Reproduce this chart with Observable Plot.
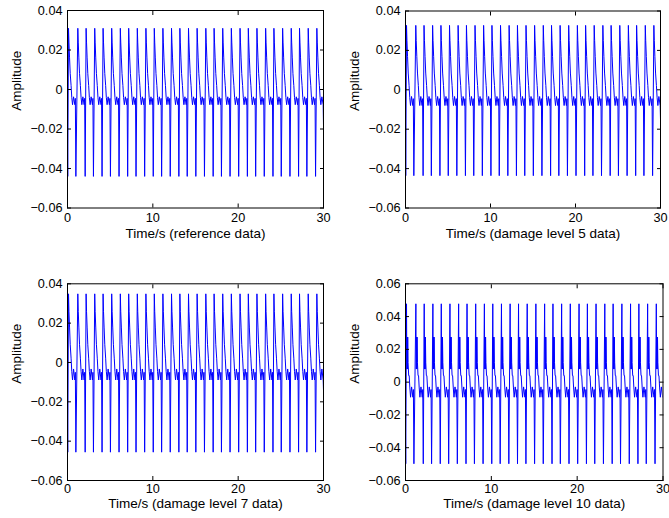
<!DOCTYPE html>
<html>
<head>
<meta charset="utf-8">
<script src="https://cdn.jsdelivr.net/npm/d3@7"></script>
<script src="https://cdn.jsdelivr.net/npm/@observablehq/plot@0.6"></script>
<style>
  html, body { margin: 0; padding: 0; background: #fff; }
  #fig { position: relative; width: 669px; height: 518px; overflow: hidden; background: #fff;
         font-family: "Liberation Sans", Arial, Helvetica, sans-serif; }
  .panel { position: absolute; }
</style>
</head>
<body>
<div id="fig"></div>
<script>
// Axis ticks
const xTicks = [0, 10, 20, 30];
const yTicksSmall = [-0.06, -0.04, -0.02, 0, 0.02, 0.04];
const yTicksLarge = [-0.06, -0.04, -0.02, 0, 0.02, 0.04, 0.06];

// Axis titles
const xTitles = [
  "Time/s (reference data)",
  "Time/s (damage level 5 data)",
  "Time/s (damage level 7 data)",
  "Time/s (damage level 10 data)"
];
const yTitle = "Amplitude";

// Times (s) of the positive impulse peaks, shared by the four records
const beatTimes = [0.12, 1.21, 2.18, 3.19, 4.17, 5.18, 6.19, 7.17, 8.18, 9.19,
  10.17, 11.18, 12.19, 13.17, 14.18, 15.19, 16.21, 17.18, 18.19, 19.20,
  20.22, 21.19, 22.20, 23.22, 24.19, 25.21, 26.22, 27.19, 28.21, 29.22];

// One impulse period: time after the peak (s) and amplitude
const beatOffsets = [0, 0.05, 0.12, 0.20, 0.30, 0.38, 0.47, 0.59, 0.74, 0.80, 0.86];
const referenceBeat = [0.031, 0.024, 0.016, 0.008, 0.002, -0.004, -0.0077, -0.0037, -0.0077, -0.0045, -0.044];
const level5Beat = [0.0327, 0.025, 0.017, 0.0085, 0.0022, -0.004, -0.008, -0.0034, -0.008, -0.0045, -0.0436];
const level7Beat = [0.0349, 0.026, 0.018, 0.009, 0.0022, -0.0045, -0.0089, -0.0033, -0.0089, -0.005, -0.0456];
const level10Offsets = [0, 0.02, 0.05, 0.08, 0.11, 0.14, 0.18, 0.25, 0.31, 0.38, 0.47, 0.59, 0.74, 0.80, 0.86];
const level10Beat = [0.0478, 0.0275, 0.008, 0.0275, 0.008, 0.0275, 0.012, 0.004, 0.004, -0.003, -0.0092, -0.0029, -0.0092, -0.0045, -0.0498];

// First two samples (t = 0 and the opening trough) and the last sample at t = 30
const startValues = [[-0.027, -0.044], [-0.012, -0.0436], [-0.027, -0.0456], [-0.03, -0.0498]];
const endValues = [-0.018, -0.015, -0.014, -0.009];

function record(offsets, beat, start, end) {
  const pts = [{t: 0, v: start[0]}, {t: 0.03, v: start[1]}];
  for (const b of beatTimes) {
    offsets.forEach((o, i) => { if (b + o < 30) pts.push({t: b + o, v: beat[i]}); });
  }
  pts.push({t: 30, v: end});
  return pts;
}

const panels = [
  {left: 0, top: 0, width: 335, height: 250, m: [10, 12, 42.5, 67], yTicks: yTicksSmall, xPad: 9,
   data: record(beatOffsets, referenceBeat, startValues[0], endValues[0]), xTitle: xTitles[0], labelDy: 26},
  {left: 335, top: 0, width: 334, height: 250, m: [10.5, 9, 42.5, 70], yTicks: yTicksSmall, xPad: 9,
   data: record(beatOffsets, level5Beat, startValues[1], endValues[1]), xTitle: xTitles[1], labelDy: 26},
  {left: 0, top: 250, width: 335, height: 268, m: [33.3, 12, 38, 67], yTicks: yTicksSmall, xPad: 7,
   data: record(beatOffsets, level7Beat, startValues[2], endValues[2]), xTitle: xTitles[2], labelDy: 23.5},
  {left: 335, top: 250, width: 334, height: 268, m: [33.3, 6.5, 38, 70], yTicks: yTicksLarge, xPad: 7,
   data: record(level10Offsets, level10Beat, startValues[3], endValues[3]), xTitle: xTitles[3], labelDy: 23.5}
];

const fmtY = d => d === 0 ? "0" : d3.format(".2f")(d);
const fig = document.getElementById("fig");

for (const p of panels) {
  const [mt, mr, mb, ml] = p.m;
  const yDomain = [p.yTicks[0], p.yTicks[p.yTicks.length - 1]];
  const svg = Plot.plot({
    width: p.width,
    height: p.height,
    marginTop: mt, marginRight: mr, marginBottom: mb, marginLeft: ml,
    style: {fontFamily: '"Liberation Sans", Arial, Helvetica, sans-serif', fontSize: "12.7px",
            background: "white", color: "black", overflow: "visible"},
    x: {domain: [0, 30]},
    y: {domain: yDomain},
    marks: [
      Plot.line(p.data, {x: "t", y: "v", stroke: "#0000ff", strokeWidth: 1, clip: true}),
      Plot.frame({stroke: "black", strokeWidth: 1}),
      Plot.axisX({ticks: xTicks, tickSize: -4, tickPadding: p.xPad, tickFormat: d => String(d), label: null}),
      Plot.axisX({anchor: "top", ticks: xTicks, tickSize: -4, tickFormat: () => "", label: null}),
      Plot.axisY({ticks: p.yTicks, tickSize: -4, tickPadding: 9, tickFormat: fmtY, label: null}),
      Plot.axisY({anchor: "right", ticks: p.yTicks, tickSize: -4, tickFormat: () => "", label: null}),
      Plot.text([p.xTitle], {frameAnchor: "bottom", lineAnchor: "middle", dy: p.labelDy, text: d => d,
                             fontSize: 13.5, fill: "black"}),
      Plot.text([yTitle], {frameAnchor: "left", lineAnchor: "middle", rotate: -90, dx: -50.5, dy: 1.5,
                           text: d => d, fontSize: 13.5, fill: "black"})
    ]
  });
  const wrap = document.createElement("div");
  wrap.className = "panel";
  wrap.style.left = p.left + "px";
  wrap.style.top = p.top + "px";
  wrap.appendChild(svg);
  fig.appendChild(wrap);
}
</script>
</body>
</html>
